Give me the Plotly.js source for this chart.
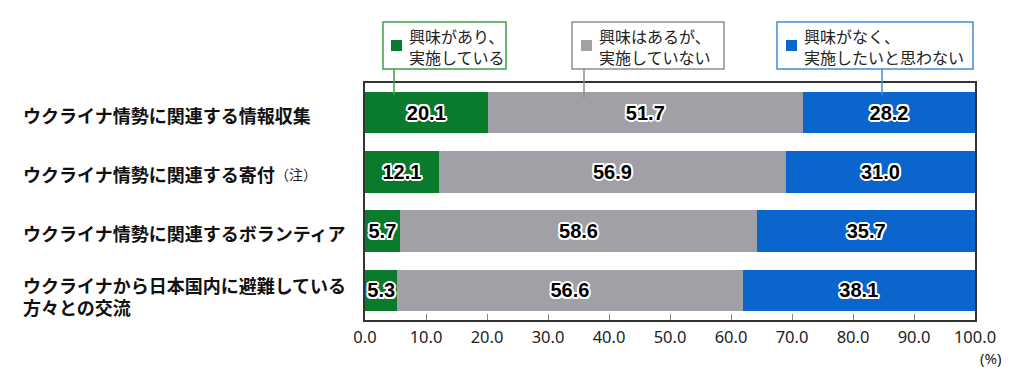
<!DOCTYPE html>
<html>
<head>
<meta charset="utf-8">
<script src="https://cdn.plot.ly/plotly-3.0.1.min.js"></script>
<style>html,body{margin:0;padding:0;background:#fff;}#chart{width:1024px;height:388px;}</style>
</head>
<body>
<div id="chart"></div>
<script>
// ---- data ----
const categories = [
  "ウクライナ情勢に関連する情報収集",
  "ウクライナ情勢に関連する寄付",
  "ウクライナ情勢に関連するボランティア",
  "ウクライナから日本国内に避難している方々との交流"
];
const seriesNames = [
  "興味があり、<br>実施している",
  "興味はあるが、<br>実施していない",
  "興味がなく、<br>実施したいと思わない"
];
const legendLines = [
  ["興味があり、", "実施している"],
  ["興味はあるが、", "実施していない"],
  ["興味がなく、", "実施したいと思わない"]
];
const doing      = [20.1, 12.1, 5.7, 5.3];
const notDoing   = [51.7, 56.9, 58.6, 56.6];
const noInterest = [28.2, 31.0, 35.7, 38.1];
const tickVals   = [0, 10, 20, 30, 40, 50, 60, 70, 80, 90, 100];
const tickLabels = ["0.0","10.0","20.0","30.0","40.0","50.0","60.0","70.0","80.0","90.0","100.0"];
const labelLines = [
  ["ウクライナ情勢に関連する情報収集"],
  ["ウクライナ情勢に関連する寄付"],
  ["ウクライナ情勢に関連するボランティア"],
  ["ウクライナから日本国内に避難している", "方々との交流"]
];
const noteText = "（注）";
const unitText = "(%)";

// ---- styles ----
const colors = ["#0a7a2c", "#a0a0a6", "#0a66cc"];
const boxColors = ["#3d9f47", "#8e8e92", "#3f8fd6"];
const W = 1024, H = 388;
const M = {l: 365, r: 49, t: 83, b: 68};
const PW = W - M.l - M.r, PH = H - M.t - M.b;
const px = v => (v - M.l) / PW;
const py = v => (H - M.b - v) / PH;

const outline = "2px 0 0 #fff, -2px 0 0 #fff, 0 2px 0 #fff, 0 -2px 0 #fff, 1.5px 1.5px 0 #fff, -1.5px -1.5px 0 #fff, 1.5px -1.5px 0 #fff, -1.5px 1.5px 0 #fff";

const seriesData = [doing, notDoing, noInterest];
const traces = seriesData.map((vals, i) => ({
  type: "bar",
  orientation: "h",
  name: seriesNames[i],
  y: categories,
  x: vals,
  text: vals.map(v => v.toFixed(1)),
  textposition: "inside",
  insidetextanchor: "middle",
  constraintext: "none",
  textangle: 0,
  textfont: {family: "Liberation Sans, Arial, sans-serif", size: 20, color: "#000", weight: 700, shadow: outline},
  marker: {color: colors[i], line: {width: 0}},
  width: 0.7,
  hoverinfo: "skip"
}));

const labelFont = {family: "Noto Sans CJK JP, sans-serif", size: 18, color: "#111", weight: 700};
const annotations = [];
labelLines.forEach((lines, i) => {
  const n = lines.length;
  lines.forEach((t, j) => {
    annotations.push({
      xref: "paper", yref: "y", x: px(22), y: categories[i],
      xanchor: "left", yanchor: "middle", align: "left", borderpad: 0,
      yshift: n === 1 ? -2 : (j === 0 ? 5 : -17),
      text: t, showarrow: false, font: labelFont
    });
  });
});
annotations.push({
  xref: "paper", yref: "y", x: px(274), y: categories[1], xanchor: "left", yanchor: "middle",
  yshift: -2, text: noteText, showarrow: false, borderpad: 0,
  font: {family: "Noto Sans CJK JP, sans-serif", size: 14, color: "#222"}
});
annotations.push({
  xref: "paper", yref: "paper", x: px(1002), y: py(358), xanchor: "right", yanchor: "middle",
  text: unitText, showarrow: false, borderpad: 0,
  font: {family: "Noto Sans, sans-serif", size: 15, color: "#222"}
});

// legend boxes
const boxes = [
  {x0: 383, x1: 506, sq: 391, tx: 408, line: 394},
  {x0: 572, x1: 724, sq: 581, tx: 598, line: 584},
  {x0: 777, x1: 973, sq: 786, tx: 803, line: 882}
];
const shapes = [];
boxes.forEach((b, i) => {
  shapes.push({type: "rect", xref: "paper", yref: "paper",
    x0: px(b.x0), x1: px(b.x1), y0: py(69), y1: py(22),
    line: {color: boxColors[i], width: 1.5}, fillcolor: "#fff", layer: "above"});
  shapes.push({type: "rect", xref: "paper", yref: "paper",
    x0: px(b.sq), x1: px(b.sq + 11), y0: py(51), y1: py(40),
    line: {width: 0}, fillcolor: colors[i], layer: "above"});
  shapes.push({type: "line", xref: "paper", yref: "paper",
    x0: px(b.line), x1: px(b.line), y0: py(69), y1: py(i === 1 ? 98 : 95),
    line: {color: boxColors[i], width: 1.5}, layer: "above"});
  legendLines[i].forEach((t, j) => {
    annotations.push({
      xref: "paper", yref: "paper", x: px(b.tx), y: py(j === 0 ? 36 : 57), xanchor: "left", yanchor: "middle",
      align: "left", text: t, showarrow: false, borderpad: 0,
      font: {family: "Noto Sans CJK JP, sans-serif", size: 16, color: "#222"}
    });
  });
});

const layout = {
  width: W, height: H,
  margin: M,
  barmode: "stack",
  showlegend: false,
  paper_bgcolor: "#fff", plot_bgcolor: "#fff",
  xaxis: {
    range: [0, 100], tickvals: tickVals, ticktext: tickLabels,
    ticks: "inside", ticklen: 6, tickcolor: "#888", tickwidth: 1,
    showgrid: false, zeroline: false,
    showline: true, linecolor: "#333", linewidth: 2, mirror: true,
    layer: "below traces", ticklabelstandoff: 1,
    tickfont: {family: "Noto Sans, sans-serif", size: 16.5, color: "#222"},
    fixedrange: true
  },
  yaxis: {
    type: "category", categoryorder: "array", categoryarray: categories,
    range: [3.5, -0.5], showticklabels: false, ticks: "",
    showgrid: false, zeroline: false,
    showline: true, linecolor: "#333", linewidth: 2, mirror: true,
    layer: "below traces", fixedrange: true
  },
  shapes: shapes,
  annotations: annotations,
  font: {family: "Noto Sans CJK JP, sans-serif"}
};

Plotly.newPlot("chart", traces, layout, {displayModeBar: false, staticPlot: true});
</script>
</body>
</html>
